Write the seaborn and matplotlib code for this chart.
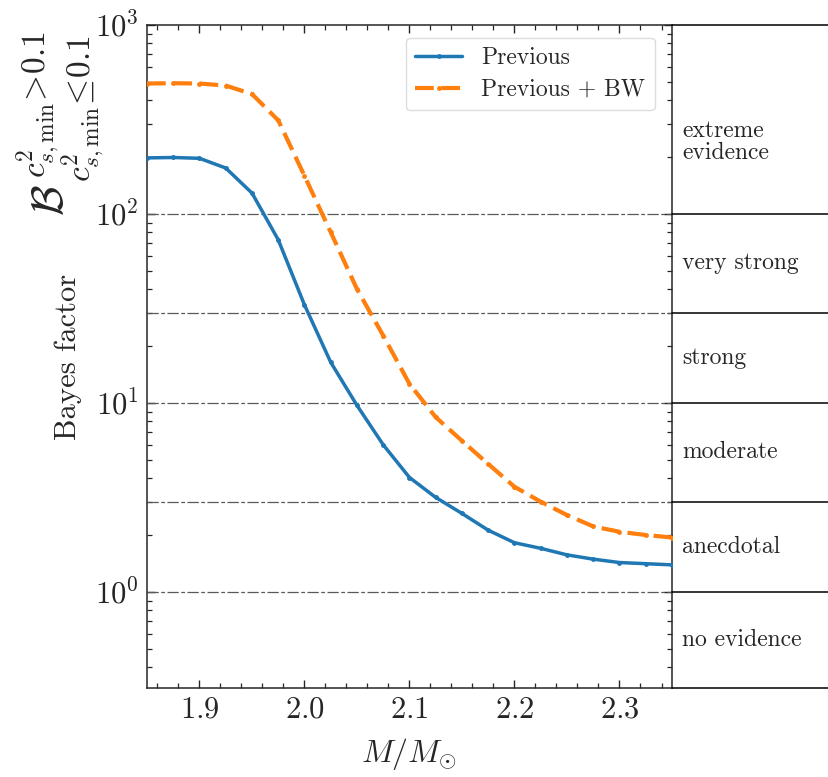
import numpy as np
import pandas as pd
import matplotlib
matplotlib.use("Agg")
import matplotlib.pyplot as plt
from matplotlib.ticker import AutoMinorLocator, LogLocator, NullFormatter
import seaborn as sns

# Neutron-star mass grid and Bayes factors for the two data sets
mass = [1.85, 1.875, 1.9, 1.925, 1.95, 1.975, 2.0, 2.025, 2.05, 2.075, 2.1,
        2.125, 2.15, 2.175, 2.2, 2.225, 2.25, 2.275, 2.3, 2.325, 2.35]
bf_previous = [198, 199, 197, 175, 129, 73, 33, 16.4, 9.7, 6.0, 4.03,
               3.16, 2.6, 2.12, 1.82, 1.70, 1.57, 1.49, 1.43, 1.41, 1.39]
bf_previous_bw = [490, 492, 490, 478, 431, 313, 159, 80, 40, 22.7, 12.6,
                  8.4, 6.3, 4.75, 3.6, 3.0, 2.55, 2.22, 2.08, 2.0, 1.94]

series_names = ["Previous", "Previous + BW"]

# Jeffreys-scale evidence categories
evidence_edges = [1, 3, 10, 30, 100]
evidence_labels = ["no evidence", "anecdotal", "moderate", "strong",
                   "very strong", "extreme\nevidence"]
evidence_label_y = [0.56, 1.73, 5.48, 17.3, 54.8, 240]

sns.set_style("ticks")
plt.rcParams.update({
    "font.family": "serif",
    "font.serif": ["cmr10", "DejaVu Serif"],
    "mathtext.fontset": "cm",
    "axes.formatter.use_mathtext": True,
    "axes.unicode_minus": False,
    "xtick.direction": "in",
    "ytick.direction": "in",
    "xtick.top": True,
    "ytick.right": True,
    "axes.linewidth": 1.1,
})

df = pd.DataFrame({
    "mass": mass * 2,
    "bf": bf_previous + bf_previous_bw,
    "set": [series_names[0]] * len(mass) + [series_names[1]] * len(mass),
})

W, H = 829, 777
fig = plt.figure(figsize=(W / 100, H / 100), dpi=100)
left, bottom = 147 / W, 1 - 688 / H
width, height = (672 - 147) / W, (688 - 25) / H
ax = fig.add_axes([left, bottom, width, height])

ymin, ymax = 0.31, 1000

for lvl in evidence_edges:
    ax.axhline(lvl, color="0.35", lw=0.9, ls=(0, (9, 2, 3, 2)), zorder=1)

colors = ["#1f77b4", "#ff7f0e"]
line_kw = [dict(linestyle="-", linewidth=2.5),
           dict(linestyle=(0, (4.5, 1.8)), linewidth=3.0)]
for name, c, kw in zip(series_names, colors, line_kw):
    sub = df[df["set"] == name]
    sns.lineplot(data=sub, x="mass", y="bf", ax=ax, color=c,
                 marker="o", markersize=3.5, markeredgewidth=0,
                 label=name, zorder=3, **kw)

ax.set_yscale("log")
ax.set_xlim(1.85, 2.35)
ax.set_ylim(ymin, ymax)
ax.set_xticks([1.9, 2.0, 2.1, 2.2, 2.3])
ax.xaxis.set_minor_locator(AutoMinorLocator(5))
ax.yaxis.set_major_locator(LogLocator(base=10, numticks=10))
ax.yaxis.set_minor_locator(LogLocator(base=10, subs=np.arange(2, 10), numticks=20))
ax.yaxis.set_minor_formatter(NullFormatter())
ax.tick_params(which="major", length=6, width=1.0, labelsize=22, pad=6)
ax.tick_params(which="minor", length=3.5, width=0.9)

ax.set_xlabel(r"$M/M_{\odot}$", fontsize=23, labelpad=9)
ax.set_ylabel("Bayes factor", fontsize=22, labelpad=9)

leg = ax.legend(loc="upper right", fontsize=17, frameon=True, fancybox=True,
                edgecolor="0.85", framealpha=0.9, handlelength=2.0,
                labelspacing=0.4, borderaxespad=0.4, bbox_to_anchor=(0.985, 0.995))

# Bayes factor symbol with its condition scripts, above the y-axis label
fig.text(52 / W, 1 - 216 / H, r"$\mathcal{B}$", rotation=90, fontsize=32,
         ha="center", va="bottom")
fig.text(38 / W, 1 - 178 / H, r"$c^{2}_{s,\mathrm{min}}\!>\!0.1$", rotation=90,
         fontsize=24, ha="center", va="bottom")
fig.text(83 / W, 1 - 182 / H, r"$c^{2}_{s,\mathrm{min}}\!\leq\!0.1$", rotation=90,
         fontsize=24, ha="center", va="bottom")

# Evidence-category panel to the right of the plot
side = fig.add_axes([left + width, bottom, 1 - (left + width), height], sharey=ax)
side.set_axis_off()
for lvl in evidence_edges + [ymin, ymax]:
    side.axhline(lvl, color="black", lw=1.1, clip_on=False)
for txt, yv in zip(evidence_labels, evidence_label_y):
    side.text(0.064, yv, txt, fontsize=17, ha="left", va="center",
              linespacing=1.0)

fig.savefig("out.png", dpi=100)
